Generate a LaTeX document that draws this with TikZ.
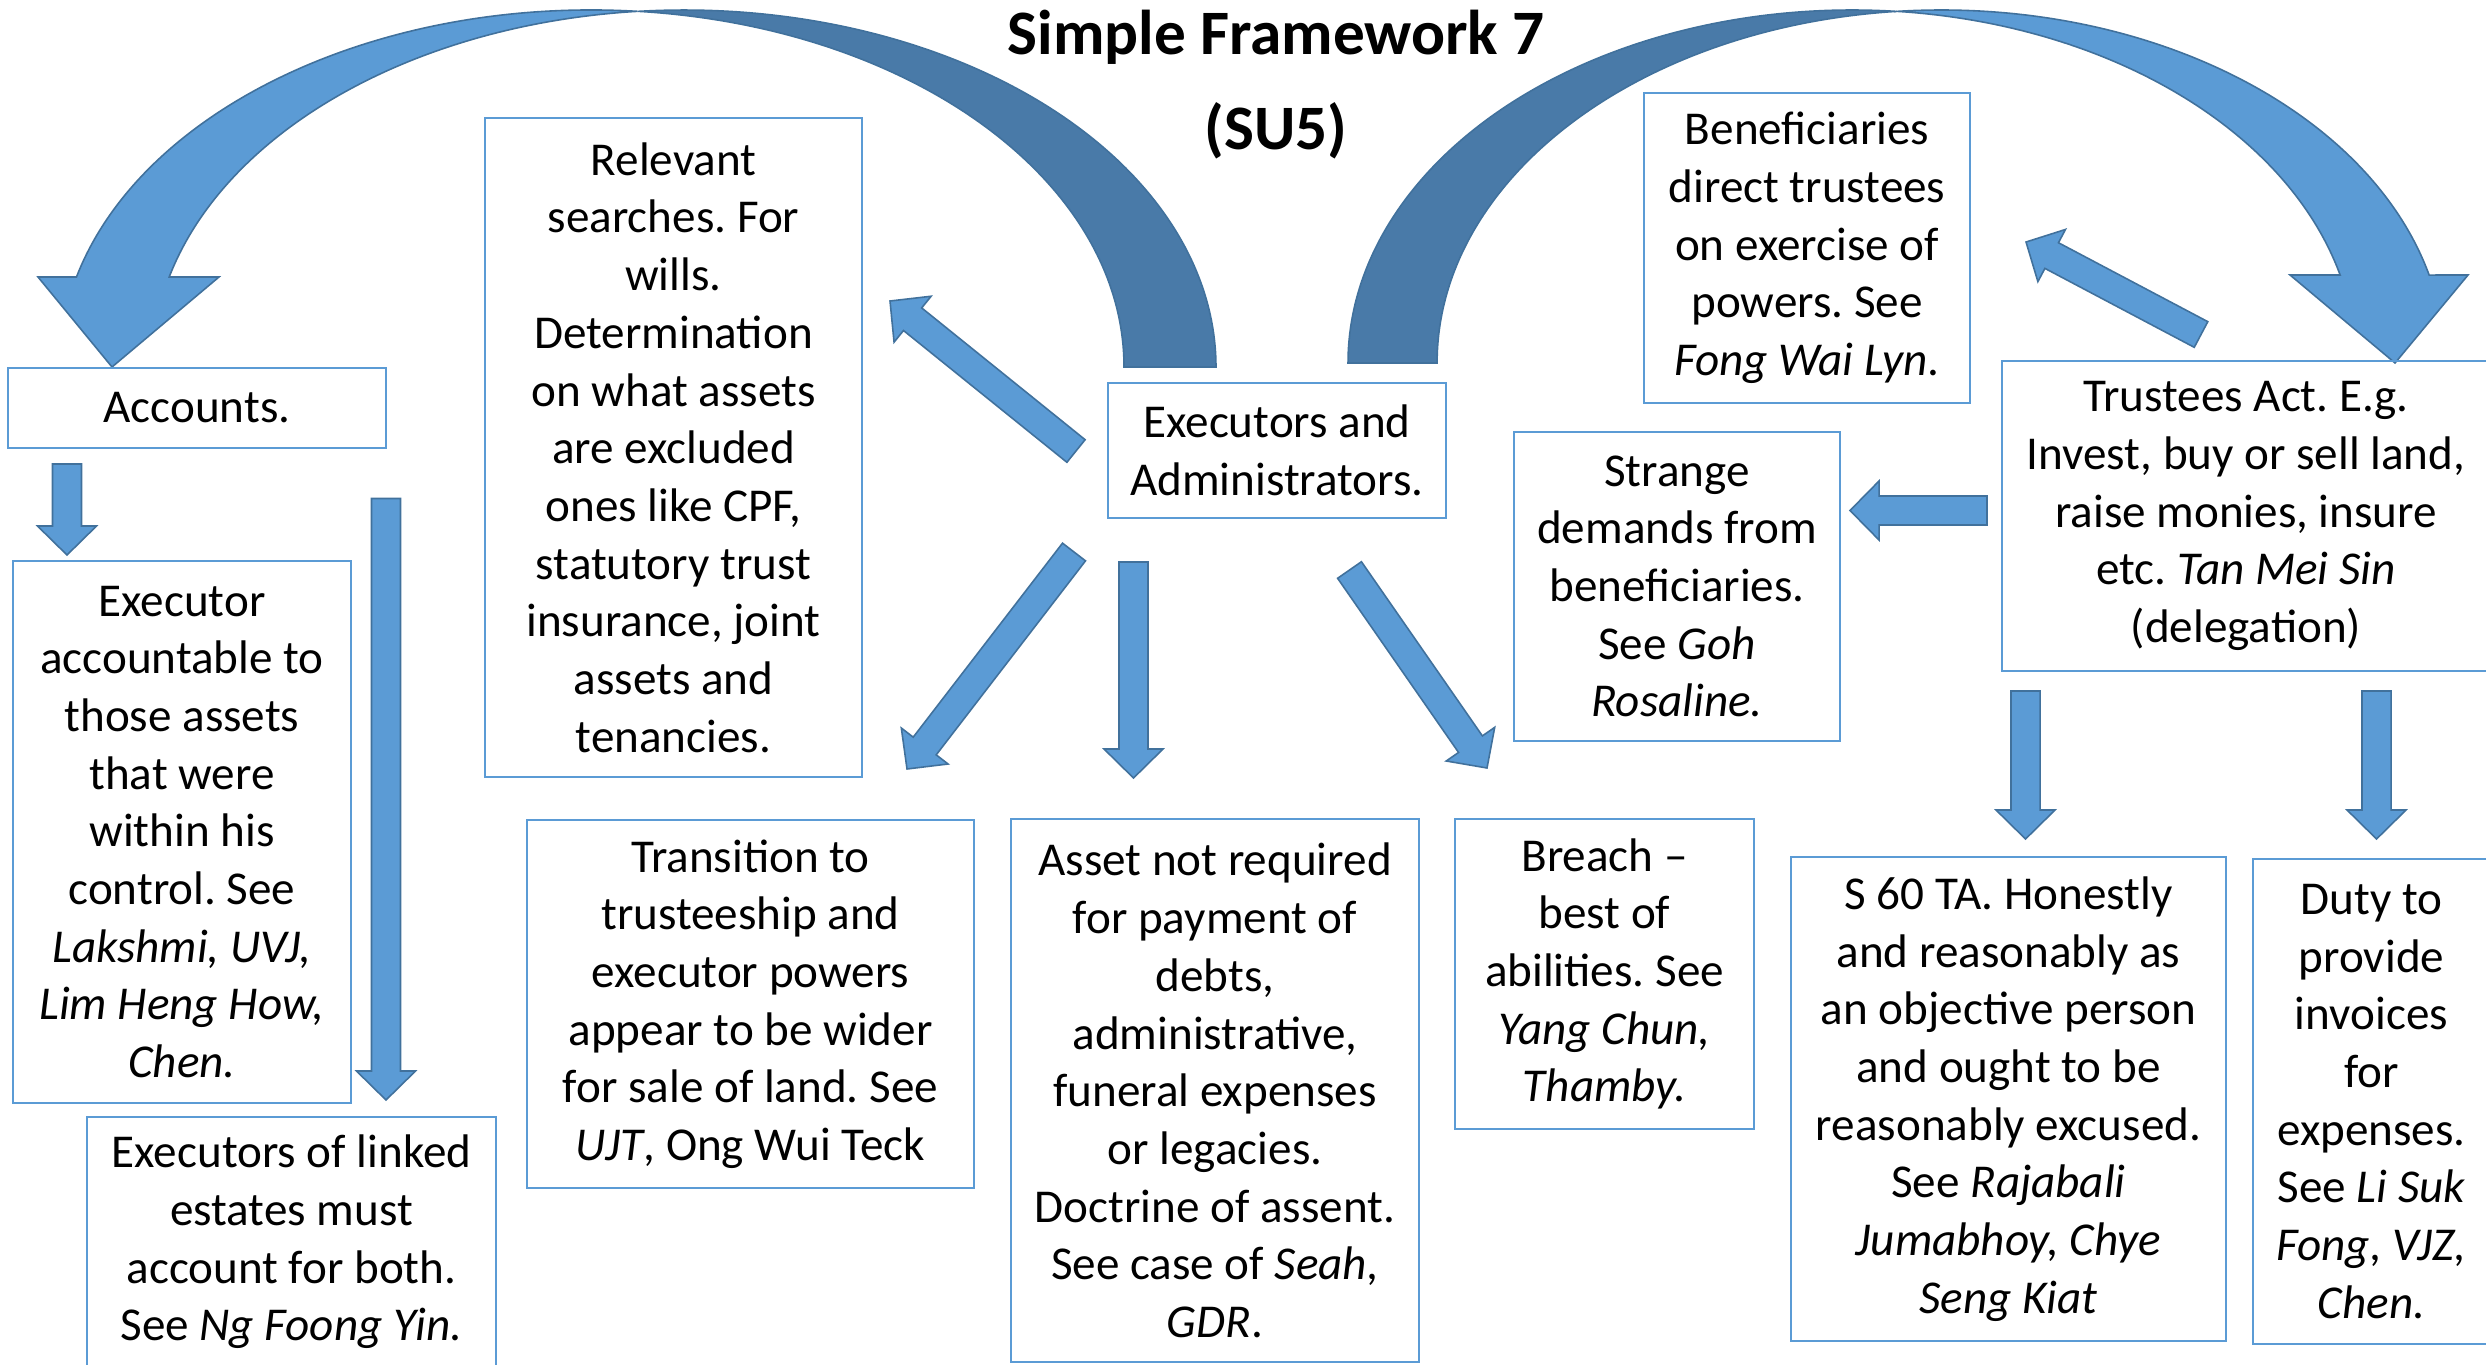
\documentclass[tikz,border=0pt]{standalone}
\usepackage{fontspec}
\setmainfont{Carlito}
\usetikzlibrary{calc}
\frenchspacing

\begin{document}
\begin{tikzpicture}[x=0.01cm, y=-0.01cm,
    box/.style={draw=boxblue, line width=0.6pt, align=center, inner sep=1pt,
        font=\fontsize{13.4}{16.4}\selectfont},
    blockarrow/.style={fill=arrowblue, draw=arrowedge, line width=0.45pt},
    backband/.style={fill=backblue, draw=arrowedge, line width=0.45pt}]
    \definecolor{boxblue}{RGB}{91,155,213}
    \definecolor{arrowblue}{RGB}{91,155,213}
    \definecolor{arrowedge}{RGB}{65,113,156}
    \definecolor{backblue}{RGB}{73,122,168}

    \def\shaftw{0.145cm}
    \def\headw{0.295cm}
    \def\headl{0.29cm}
    \def\blockarrow#1#2{
        \coordinate (hb) at ($(#2)!\headl!(#1)$);
        \draw[blockarrow] ($(#1)!\shaftw!90:(#2)$) -- ($(hb)!\shaftw!90:(#2)$) -- ($(hb)!\headw!90:(#2)$) -- (#2)
            -- ($(hb)!\headw!-90:(#2)$) -- ($(hb)!\shaftw!-90:(#2)$) -- ($(#1)!\shaftw!-90:(#2)$) -- cycle;
    }

    \useasboundingbox (0,0) rectangle (2486,1364);

    \fill[backband] (637.6,11.4) arc[start angle=265, end angle=360, x radius=532, y radius=357]
        -- (1124,367) arc[start angle=0, end angle=-85, x radius=532, y radius=357] -- cycle;
    \fill[blockarrow] (38,277) -- (112,367) -- (219,277) -- (169.2,277)
        arc[start angle=194.6, end angle=265, x radius=532, y radius=357]
        arc[start angle=275, end angle=194.6, x radius=532, y radius=357] -- cycle;

    \fill[backband] (1348,363) arc[start angle=180, end angle=275.07, x radius=504, y radius=353]
        arc[start angle=264.93, end angle=180, x radius=504, y radius=353] -- cycle;
    \fill[blockarrow] (1896.5,11.4) arc[start angle=264.93, end angle=345.57, x radius=504, y radius=353]
        -- (2468,275) -- (2395,363) -- (2290,275) -- (2340.1,275)
        arc[start angle=345.57, end angle=275.07, x radius=504, y radius=353] -- cycle;

    \node[font=\fontsize{18}{27}\selectfont\bfseries, align=center] (title) at (1276,85) {Simple Framework 7\\(SU5)};

    \node[box, minimum width=3.78cm, minimum height=0.80cm] (acc) at (197,408) {Accounts.};
    \node[box, minimum width=3.38cm, minimum height=5.42cm] (accountable) at (182,832)
        {Executor\\accountable to\\those assets\\that were\\within his\\control. See\\\textit{Lakshmi, UVJ,}\\\textit{Lim Heng How,}\\\textit{Chen.}};
    \node[box, minimum width=4.09cm, minimum height=2.50cm] (linked) at (291.5,1242)
        {Executors of linked\\estates must\\account for both.\\See \textit{Ng Foong Yin.}};
    \node[box, minimum width=3.77cm, minimum height=6.59cm] (searches) at (673.5,447.5)
        {Relevant\\searches. For\\wills.\\Determination\\on what assets\\are excluded\\ones like CPF,\\statutory trust\\insurance, joint\\assets and\\tenancies.};
    \node[box, minimum width=3.38cm, minimum height=1.35cm] (exec) at (1277,450.5) {Executors and\\Administrators.};
    \node[box, minimum width=4.47cm, minimum height=3.68cm] (transition) at (750.5,1004)
        {Transition to\\trusteeship and\\executor powers\\appear to be wider\\for sale of land. See\\\textit{UJT}, Ong Wui Teck};
    \node[box, minimum width=4.08cm, minimum height=5.43cm] (asset) at (1215,1090.5)
        {Asset not required\\for payment of\\debts,\\administrative,\\funeral expenses\\or legacies.\\Doctrine of assent.\\See case of \textit{Seah,}\\\textit{GDR}.};
    \node[box, minimum width=2.99cm, minimum height=3.10cm] (breach) at (1604.5,974)
        {Breach --\\best of\\abilities. See\\\textit{Yang Chun,}\\\textit{Thamby.}};
    \node[box, minimum width=3.26cm, minimum height=3.09cm] (strange) at (1677,586.5)
        {Strange\\demands from\\beneficiaries.\\See \textit{Goh}\\\textit{Rosaline.}};
    \node[box, minimum width=3.26cm, minimum height=3.10cm] (benef) at (1807,248)
        {Beneficiaries\\direct trustees\\on exercise of\\powers. See\\\textit{Fong Wai Lyn}.};
    \node[box, minimum width=4.88cm, minimum height=3.10cm] (trustees) at (2246,516)
        {Trustees Act. E.g.\\Invest, buy or sell land,\\raise monies, insure\\etc. \textit{Tan Mei Sin}\\(delegation)};
    \node[box, minimum width=4.35cm, minimum height=4.84cm] (sixty) at (2008.5,1099)
        {S 60 TA. Honestly\\and reasonably as\\an objective person\\and ought to be\\reasonably excused.\\See \textit{Rajabali}\\\textit{Jumabhoy, Chye}\\\textit{Seng Kiat}};
    \node[box, minimum width=2.37cm, minimum height=4.85cm] (invoices) at (2371.5,1101.5)
        {Duty to\\provide\\invoices\\for\\expenses.\\See \textit{Li Suk}\\\textit{Fong, VJZ,}\\\textit{Chen.}};

    \coordinate (searchesTail) at (1076,451);
    \coordinate (searchesTip) at (890,301);
    \coordinate (transitionTail) at (1074,552);
    \coordinate (transitionTip) at (907,769);
    \coordinate (assetTail) at (1133.5,562);
    \coordinate (assetTip) at (1133.5,778);
    \coordinate (breachTail) at (1349.5,570);
    \coordinate (breachTip) at (1487,768);
    \coordinate (benefTail) at (2201,334.5);
    \coordinate (benefTip) at (2026,242);
    \coordinate (strangeTail) at (1987,510.5);
    \coordinate (strangeTip) at (1850,510.5);
    \coordinate (sixtyTail) at (2025.5,691);
    \coordinate (sixtyTip) at (2025.5,839);
    \coordinate (invoicesTail) at (2376.5,691);
    \coordinate (invoicesTip) at (2376.5,839);
    \coordinate (accountableTail) at (67,464);
    \coordinate (accountableTip) at (67,555);
    \coordinate (linkedTail) at (386,498.5);
    \coordinate (linkedTip) at (386,1100);

    \blockarrow{searchesTail}{searchesTip}
    \blockarrow{transitionTail}{transitionTip}
    \blockarrow{assetTail}{assetTip}
    \blockarrow{breachTail}{breachTip}
    \blockarrow{benefTail}{benefTip}
    \blockarrow{strangeTail}{strangeTip}
    \blockarrow{sixtyTail}{sixtyTip}
    \blockarrow{invoicesTail}{invoicesTip}
    \blockarrow{accountableTail}{accountableTip}
    \blockarrow{linkedTail}{linkedTip}
\end{tikzpicture}
\end{document}
